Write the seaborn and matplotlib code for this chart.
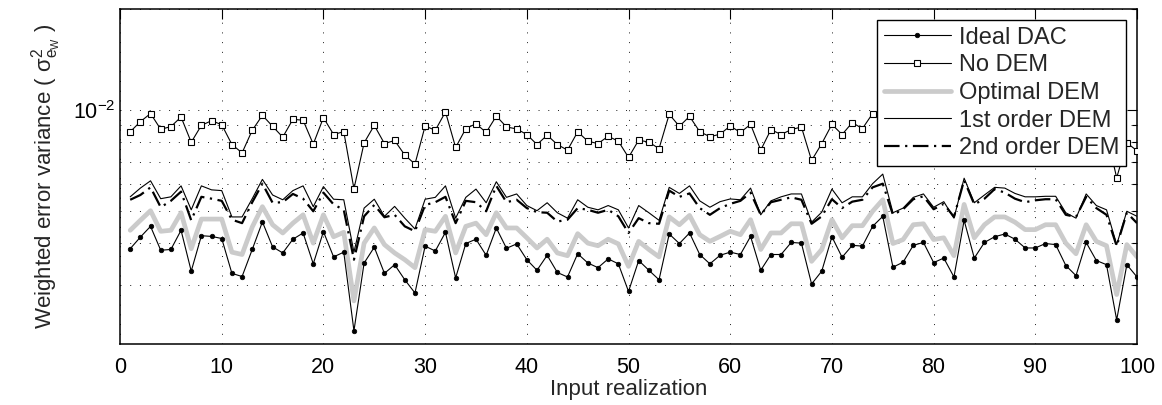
import numpy as np
import pandas as pd
import matplotlib
matplotlib.use("Agg")
import matplotlib.pyplot as plt
import matplotlib.ticker as mticker
import seaborn as sns

realization = list(range(1, 101))

ideal_dac = [
    0.00385, 0.00417, 0.00449, 0.00381, 0.00383, 0.00437, 0.00330, 0.00421, 0.00419, 0.00413,
    0.00325, 0.00318, 0.00383, 0.00463, 0.00390, 0.00374, 0.00411, 0.00429, 0.00347, 0.00433,
    0.00364, 0.00376, 0.00219, 0.00349, 0.00389,
    0.00325, 0.00345, 0.00311, 0.00284, 0.00392, 0.00379, 0.00431, 0.00315, 0.00399, 0.00411,
    0.00368, 0.00444, 0.00386, 0.00398, 0.00357, 0.00332, 0.00368, 0.00327, 0.00317, 0.00372,
    0.00349, 0.00338, 0.00359, 0.00347, 0.00287,
    0.00355, 0.00332, 0.00311, 0.00426, 0.00399, 0.00429, 0.00370, 0.00347, 0.00368, 0.00376,
    0.00370, 0.00419, 0.00332, 0.00370, 0.00370, 0.00402, 0.00400, 0.00302, 0.00330, 0.00418,
    0.00363, 0.00394, 0.00392, 0.00449, 0.00481,
    0.00339, 0.00351, 0.00394, 0.00402, 0.00350, 0.00361, 0.00317, 0.00468, 0.00361, 0.00402,
    0.00418, 0.00426, 0.00411, 0.00387, 0.00387, 0.00399, 0.00396, 0.00343, 0.00320, 0.00402,
    0.00355, 0.00345, 0.00236, 0.00345, 0.00317,
]

no_dem = [
    0.00860, 0.00922, 0.00975, 0.00875, 0.00891, 0.00952, 0.00800, 0.00899, 0.00928, 0.00903,
    0.00788, 0.00744, 0.00869, 0.00963, 0.00893, 0.00829, 0.00937, 0.00931, 0.00790, 0.00948,
    0.00844, 0.00861, 0.00581, 0.00797, 0.00899,
    0.00793, 0.00810, 0.00733, 0.00689, 0.00895, 0.00869, 0.00986, 0.00772, 0.00879, 0.00909,
    0.00856, 0.00958, 0.00889, 0.00877, 0.00844, 0.00788, 0.00840, 0.00788, 0.00758, 0.00860,
    0.00806, 0.00793, 0.00834, 0.00806, 0.00721,
    0.00812, 0.00801, 0.00766, 0.00970, 0.00893, 0.00956, 0.00861, 0.00831, 0.00846, 0.00895,
    0.00856, 0.00905, 0.00758, 0.00873, 0.00844, 0.00873, 0.00889, 0.00706, 0.00793, 0.00905,
    0.00844, 0.00916, 0.00879, 0.00975, 0.00930,
    0.00880, 0.00900, 0.00940, 0.00910, 0.00870, 0.00890, 0.00830, 0.00960, 0.00880, 0.00910,
    0.00940, 0.00930, 0.00900, 0.00870, 0.00880, 0.00900, 0.00890, 0.00840, 0.00810, 0.00910,
    0.00870, 0.00850, 0.00627, 0.00797, 0.00755,
]

optimal_dem = [
    0.00437, 0.00468, 0.00500, 0.00434, 0.00437, 0.00493, 0.00385, 0.00472, 0.00472, 0.00472,
    0.00376, 0.00370, 0.00447, 0.00514, 0.00454, 0.00429, 0.00459, 0.00486, 0.00400, 0.00486,
    0.00418, 0.00431, 0.00269, 0.00400, 0.00444,
    0.00396, 0.00374, 0.00357, 0.00338, 0.00439, 0.00434, 0.00481, 0.00374, 0.00449, 0.00459,
    0.00424, 0.00493, 0.00444, 0.00444, 0.00415, 0.00387, 0.00411, 0.00374, 0.00367, 0.00427,
    0.00400, 0.00393, 0.00411, 0.00398, 0.00341,
    0.00405, 0.00383, 0.00364, 0.00479, 0.00454, 0.00484, 0.00424, 0.00405, 0.00419, 0.00434,
    0.00424, 0.00470, 0.00383, 0.00429, 0.00429, 0.00457, 0.00457, 0.00353, 0.00383, 0.00470,
    0.00415, 0.00451, 0.00451, 0.00498, 0.00539,
    0.00399, 0.00410, 0.00454, 0.00457, 0.00410, 0.00415, 0.00367, 0.00522, 0.00415, 0.00454,
    0.00479, 0.00479, 0.00462, 0.00439, 0.00439, 0.00454, 0.00454, 0.00400, 0.00372, 0.00454,
    0.00405, 0.00393, 0.00281, 0.00396, 0.00364,
]

first_order_dem = [
    0.00550, 0.00584, 0.00614, 0.00543, 0.00550, 0.00593, 0.00503, 0.00593, 0.00577, 0.00574,
    0.00479, 0.00479, 0.00543, 0.00620, 0.00557, 0.00539, 0.00574, 0.00593, 0.00514, 0.00590,
    0.00541, 0.00539, 0.00376, 0.00509, 0.00541,
    0.00481, 0.00515, 0.00475, 0.00441, 0.00541, 0.00548, 0.00593, 0.00475, 0.00548, 0.00580,
    0.00528, 0.00610, 0.00548, 0.00561, 0.00518, 0.00500, 0.00528, 0.00493, 0.00475, 0.00539,
    0.00512, 0.00503, 0.00518, 0.00503, 0.00444,
    0.00518, 0.00493, 0.00468, 0.00587, 0.00563, 0.00593, 0.00535, 0.00512, 0.00532, 0.00542,
    0.00539, 0.00584, 0.00486, 0.00535, 0.00550, 0.00561, 0.00561, 0.00462, 0.00495, 0.00580,
    0.00528, 0.00550, 0.00550, 0.00602, 0.00643,
    0.00493, 0.00509, 0.00548, 0.00561, 0.00512, 0.00532, 0.00475, 0.00625, 0.00528, 0.00557,
    0.00587, 0.00584, 0.00563, 0.00550, 0.00550, 0.00552, 0.00552, 0.00493, 0.00475, 0.00561,
    0.00518, 0.00503, 0.00396, 0.00498, 0.00481,
]

second_order_dem = [
    0.00539, 0.00557, 0.00587, 0.00512, 0.00535, 0.00570, 0.00468, 0.00550, 0.00543, 0.00535,
    0.00470, 0.00459, 0.00530, 0.00602, 0.00528, 0.00530, 0.00561, 0.00543, 0.00498, 0.00566,
    0.00522, 0.00503, 0.00357, 0.00481, 0.00520,
    0.00478, 0.00486, 0.00449, 0.00434, 0.00520, 0.00530, 0.00550, 0.00459, 0.00535, 0.00530,
    0.00498, 0.00593, 0.00530, 0.00539, 0.00509, 0.00495, 0.00493, 0.00464, 0.00470, 0.00509,
    0.00503, 0.00493, 0.00503, 0.00481, 0.00429,
    0.00475, 0.00459, 0.00457, 0.00574, 0.00550, 0.00563, 0.00509, 0.00486, 0.00509, 0.00524,
    0.00535, 0.00566, 0.00486, 0.00530, 0.00539, 0.00548, 0.00539, 0.00457, 0.00481, 0.00541,
    0.00509, 0.00532, 0.00539, 0.00587, 0.00602,
    0.00486, 0.00505, 0.00541, 0.00552, 0.00505, 0.00524, 0.00479, 0.00617, 0.00522, 0.00543,
    0.00580, 0.00566, 0.00543, 0.00530, 0.00537, 0.00541, 0.00541, 0.00486, 0.00479, 0.00550,
    0.00509, 0.00486, 0.00392, 0.00493, 0.00459,
]

x_ticks = [0, 10, 20, 30, 40, 50, 60, 70, 80, 90, 100]
series_labels = ["Ideal DAC", "No DEM", "Optimal DEM", "1st order DEM", "2nd order DEM"]

sns.set_theme(style="white")
plt.rcParams["font.family"] = ["Liberation Sans", "DejaVu Sans"]
plt.rcParams["mathtext.fontset"] = "custom"
plt.rcParams["mathtext.rm"] = "Liberation Sans"
plt.rcParams["mathtext.it"] = "Liberation Sans:italic"
plt.rcParams["mathtext.default"] = "regular"

df = pd.DataFrame({
    "x": realization,
    "ideal": ideal_dac,
    "nodem": no_dem,
    "opt": optimal_dem,
    "first": first_order_dem,
    "second": second_order_dem,
})

fig = plt.figure(figsize=(11.62, 4.05), dpi=100)
ax = fig.add_axes([0.1033, 0.1506, 0.8752, 0.8272])

common = dict(estimator=None, sort=False, ax=ax)
sns.lineplot(data=df, x="x", y="ideal", color="black", linewidth=0.8,
             marker="o", markersize=3.3, markerfacecolor="black",
             markeredgecolor="black", markeredgewidth=0.5,
             label=series_labels[0], zorder=4, **common)
sns.lineplot(data=df, x="x", y="nodem", color="black", linewidth=0.8,
             marker="s", markersize=5, markerfacecolor="white",
             markeredgecolor="black", markeredgewidth=0.8,
             label=series_labels[1], zorder=4, **common)
sns.lineplot(data=df, x="x", y="opt", color="#cbcbcb", linewidth=3.4,
             label=series_labels[2], zorder=2, **common)
sns.lineplot(data=df, x="x", y="first", color="black", linewidth=0.8,
             label=series_labels[3], zorder=3, **common)
sns.lineplot(data=df, x="x", y="second", color="black", linewidth=1.6,
             linestyle=(0, (7, 2.5, 1, 2.5)),
             label=series_labels[4], zorder=3, **common)

ax.set_yscale("log")
ax.set_xlim(0, 100)
ax.set_ylim(2e-3, 2e-2)
ax.set_xticks(x_ticks)
ax.set_xticklabels([str(t) for t in x_ticks])
ax.yaxis.set_major_locator(mticker.LogLocator(base=10, numticks=10))
ax.yaxis.set_minor_locator(mticker.LogLocator(base=10, subs=np.arange(2, 10), numticks=20))
ax.yaxis.set_major_formatter(mticker.LogFormatterSciNotation())
ax.yaxis.set_minor_formatter(mticker.NullFormatter())

grid_kw = dict(color="black", linewidth=0.7, linestyle=(0, (1, 9)), alpha=0.9)
ax.grid(True, axis="x", which="major", **grid_kw)
ax.grid(True, axis="y", which="both", **grid_kw)
ax.set_axisbelow(True)

ax.tick_params(axis="both", which="both", direction="in", top=True, right=True,
               colors="black", labelsize=15.5)
ax.tick_params(axis="both", which="major", length=7, width=0.8)
ax.tick_params(axis="y", which="minor", length=3.5, width=0.8)
ax.tick_params(axis="x", which="major", pad=9)

for s in ax.spines.values():
    s.set_color("black")
    s.set_linewidth(1.1)

ax.set_xlabel("Input realization", fontsize=16, labelpad=1)
ax.set_ylabel(r"Weighted error variance ( $\mathregular{σ^2_{e_W}}$ )", fontsize=16, labelpad=6)

leg = ax.legend(loc="upper right", fontsize=17, frameon=True, fancybox=False,
                framealpha=1, edgecolor="black", borderaxespad=0.45,
                handlelength=2.8, handletextpad=0.35, labelspacing=0.24,
                borderpad=0.3)
leg.get_frame().set_linewidth(1.0)
leg.set_zorder(10)

fig.savefig("out.png", dpi=100)
